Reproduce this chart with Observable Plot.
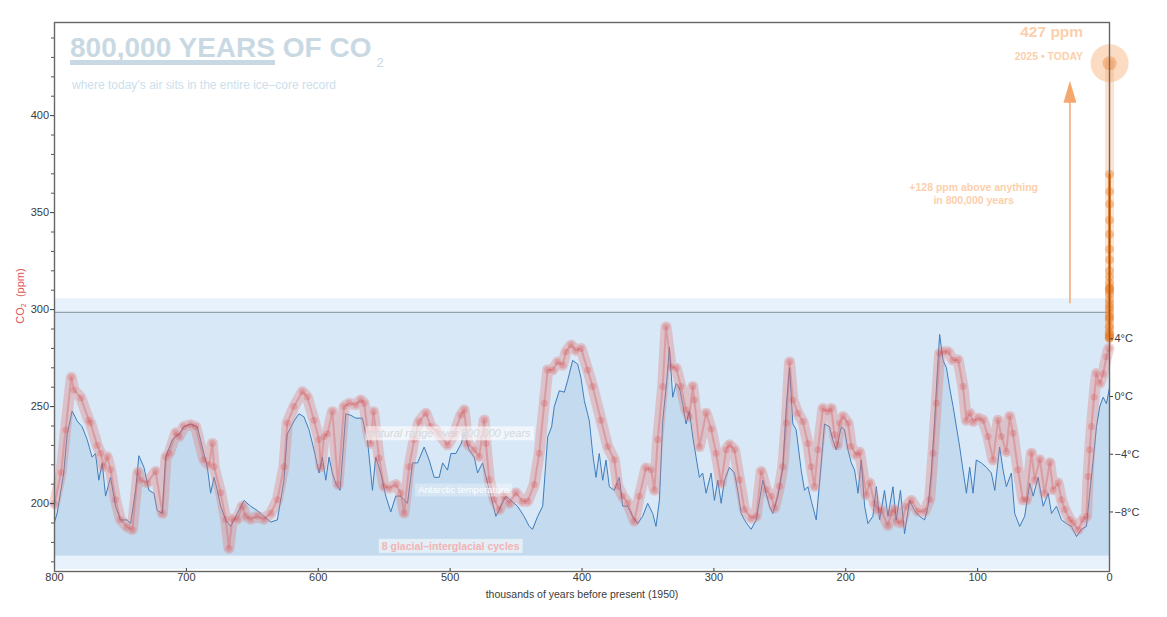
<!DOCTYPE html>
<html>
<head>
<meta charset="utf-8">
<script src="https://cdn.jsdelivr.net/npm/d3@7"></script>
<script src="https://cdn.jsdelivr.net/npm/@observablehq/plot@0.6"></script>
<style>
  html, body { margin: 0; padding: 0; background: #fff; }
  #chart svg { display: block; }
</style>
</head>
<body>
<div id="chart"></div>
<script>
// EPICA Dome C composite CO2 (thousands of years before 1950, ppm)
const co2Age = [800,795,791.6,787.3,785.3,780,774,772.7,767.6,765,762.6,760,757.5,753.7,750,745,741,736.7,734.7,729.6,723.3,718.2,715.4,713,708,705.6,701.9,696.8,693,686.7,682.8,680.3,679,674,670.2,667.7,665.2,661.4,657.6,655,651.3,646.2,641.2,636,631,626,623.5,618.4,612,608.3,603.2,599.4,598,595.6,593,589.3,585,580.4,576.6,571.5,567.8,565.2,562.7,560.2,558.1,556.4,553.9,550.1,546.3,541.2,537.4,534.9,531.1,527.3,523.5,518.4,514.6,509.6,502,496.9,491.8,489.3,486.8,481.7,477.9,474.1,472.9,470.3,466.5,462.7,459,455.2,450.1,445,441.3,436.2,432.4,428.6,426,422.3,418.4,414.7,412.1,408.3,404.6,400.8,395.7,391.9,385.6,380.5,375.5,372.9,369.1,365.4,360.3,356.5,351.5,347.6,345.1,342.6,338.8,336.3,332.4,328.6,324.9,321.1,318.6,316,314.8,311,305.9,302.1,298.3,294.5,290.7,288.2,284.4,280.6,276.8,271.7,267.9,264.1,260.3,256.5,254,250.2,247.7,245.1,242.6,240.1,236.3,232.5,228.7,226.2,223.7,221.1,217.3,213.6,211,208.5,206.5,204.7,202.1,198.3,195.8,192,189.5,184.4,181.9,178.1,175.6,173.1,168,165.5,163,161.7,157.9,154.1,150.3,145.2,140.2,136.4,133.8,131.3,128.8,126.2,122.4,118.6,114.8,111.1,108.5,106,103.5,99.7,95.9,92.1,88.3,84.5,82,78.2,75.7,73.2,69.4,65.6,63,59.2,56.7,52.9,49.1,45.3,42.7,39,36.4,33.9,30.1,27.6,23.8,20,17.5,16.2,15,13.7,11.7,9.9,7.4,4.8,2.3,0.5];
const co2Ppm = [200,216,238,265,258.6,254.5,243,241.6,230,226,219,224,217.5,202,191.8,188,186.6,216,212,210.8,216.6,195,224,226,236.5,234.6,239.7,240.6,239.7,222.6,220,231,219,205.6,191.8,177,192,192,198.6,193.5,192,193.5,192,195,202,219,241.5,250,257.7,255,243,233,219,234.6,236,247.4,210,250,251.7,251,253.4,251.7,238,231,247.4,238,223.5,209,208,209.8,205.5,195.2,219,233,242.3,246.6,239.7,237,230.3,236,245.7,248.3,231,227.7,224.3,243,231,212.3,202,197,203.8,200.3,205.5,201.2,201.2,209.8,226,251.7,268.9,268.9,273,271.4,278.3,281.7,279,280,268.9,260.3,243,229.4,222.6,209,203.8,200.3,191,203.8,218.3,217.5,207,233,260.3,291,270.6,269.8,260.3,248.3,244.9,260.3,253.4,229.4,246.6,238.5,226,210.6,227.7,230.3,227.7,212.3,197,192.6,193.5,216.6,207.2,203.8,197.8,209,219,241.5,273,253.4,246.6,242.3,231,219,209,227.7,249,247.4,249,235.5,230.3,241.5,244.9,241.5,229.4,225,226.5,204.5,210.6,200,197,196.5,188.8,195.2,197,191,190,198.6,201.6,196,196,202,226,251.7,277.4,278.3,278.3,274,274,260.3,243,246.6,242.3,244,243,234.6,222.6,243,234.6,226.9,244.9,236.3,217.5,202,202,226,212.3,222.6,205.5,221,207.2,210.6,202,197,191.8,190,186.6,191.8,193.5,214,227.7,239.7,255,267,262,267,275.7,280];

// Antarctic temperature anomaly (°C) from the same core
const tempAge = [800,798,793,790.4,786.6,782.8,779,775.2,771.5,768.9,766.4,763.8,761.3,757.5,753.7,750,744.9,742.3,738.5,736,732.2,728.4,724.6,722.1,718.3,715.7,710.7,705.6,701.9,696.8,691.7,686.7,684.1,681.6,679,676.5,674,670.2,666.4,661.4,656.3,651.3,646.2,641.2,636,631,626,623.5,618.4,614.6,610.9,607,603.2,599.4,596.9,594.3,591.8,589.3,586.7,583.5,579.1,575.3,571.5,566.5,562.7,558.9,556.4,552.6,548.8,545,541.2,537.4,532.3,528.5,524.7,519.7,515.9,512.1,508.3,505.7,502,499.4,495.6,491.8,489.3,485.5,481.7,479.2,475.4,471.6,469.1,465.3,461.5,457.7,453.9,448.9,443.9,440,437.5,433.6,429.8,426,423,421,417.2,413.4,410.9,407.1,403.3,400.8,398.2,394.4,391.9,389.4,386.9,384.3,381.8,379.3,375.5,371.7,369.1,365.4,361.5,357.8,354,350.2,346.4,343.9,341.3,338.8,335.7,333.7,331.2,328.6,326.1,323.6,321.1,318.6,316,313.5,311,308.5,305.9,302.1,299.6,297,294.5,292,288.2,284.4,281.9,279.3,276.8,274.3,271.7,267.9,265.4,262.9,260.3,257.8,255.3,251.5,247.7,245.1,242.6,240.1,237.6,233.8,231.3,228.7,226.2,222.4,219.9,216.1,212.3,209.8,207.2,203.4,200.9,198.3,195.8,193.3,190.7,188.2,185.7,183.2,179.4,176.8,174.3,170.6,168,164.2,161.7,158.5,155.4,151.6,147.8,144,140.2,137.6,135.1,132.6,130.5,128.8,126.2,123.7,121.2,118.6,116.1,113.6,111.1,108.5,106,103.5,101,97.2,93.4,89.6,87,83.3,80.7,78.2,74.4,71.9,68.1,64.3,60.5,57.9,54.1,50.3,46.5,44,40.2,36.4,32.6,28.8,25,21.3,17.5,15,12.4,9.9,7.4,4.8,2.3,0];
const tempC = [-8.7,-8.1,-5.3,-2.6,-1.0,-1.7,-2.1,-3.0,-4.2,-3.95,-5.8,-4.6,-6.9,-5.6,-7.6,-8.55,-8.55,-8.8,-6.5,-4.1,-4.9,-6.5,-6.7,-7.9,-8.1,-4.2,-3.0,-2.6,-2.1,-1.9,-2.1,-3.95,-4.9,-6.7,-5.6,-6.5,-7.6,-8.55,-9.0,-8.1,-7.2,-7.6,-7.9,-8.3,-8.7,-8.55,-5.8,-2.6,-1.7,-1.2,-1.4,-2.3,-3.7,-5.3,-4.2,-5.8,-4.2,-5.3,-6.0,-6.5,-1.2,-1.3,-1.5,-1.5,-3.0,-6.5,-4.2,-5.3,-6.9,-8.0,-6.9,-6.9,-7.4,-4.6,-4.6,-3.5,-4.4,-5.6,-5.6,-4.6,-5.1,-3.95,-3.95,-3.3,-2.6,-3.7,-4.2,-5.3,-4.6,-6.0,-6.9,-8.3,-7.6,-6.9,-7.2,-7.6,-8.3,-9.0,-9.2,-8.3,-7.6,-2.8,-2.1,-0.7,0.4,0.3,1.1,2.5,2.25,1.3,-0.3,-1.7,-3.95,-5.6,-3.95,-5.8,-4.4,-6.25,-6.5,-5.6,-7.6,-7.6,-8.3,-8.8,-8.3,-7.4,-8.1,-9.0,-7.2,-1.7,1.1,3.4,-0.05,0.9,0.6,-0.5,-1.9,-1.0,-2.8,-4.2,-5.6,-5.3,-6.7,-5.3,-7.2,-5.8,-7.4,-5.8,-4.9,-5.3,-6.5,-8.1,-8.55,-8.9,-9.2,-8.55,-7.2,-5.8,-6.7,-7.6,-8.1,-6.9,-4.9,-0.7,2.0,-1.9,-2.3,-5.1,-6.5,-6.25,-7.2,-8.55,-6.0,-1.9,-2.1,-3.0,-3.7,-2.1,-2.3,-3.7,-4.6,-5.1,-6.7,-4.4,-7.6,-8.8,-8.3,-6.25,-8.55,-6.5,-8.3,-6.25,-8.55,-6.5,-9.5,-7.2,-7.9,-8.3,-8.55,-7.6,-5.3,-1.7,1.8,4.3,2.5,2.0,0.6,-0.7,-2.1,-3.5,-5.1,-6.7,-4.9,-6.7,-4.4,-4.6,-4.9,-5.3,-6.5,-3.5,-5.1,-6.25,-5.3,-8.1,-9.0,-8.3,-6.0,-6.9,-5.6,-7.6,-6.7,-8.1,-7.6,-8.55,-8.8,-9.0,-9.7,-9.2,-9.0,-6.7,-4.4,-2.1,-0.7,-0.05,-0.5,0.6];

// Industrial-era CO2 (calendar year, ppm)
const modernYear = [1850,1855,1860,1865,1870,1875,1880,1885,1890,1895,1900,1905,1910,1915,1920,1925,1930,1935,1940,1945,1950,1955,1960,1965,1970,1975,1980,1985,1990,1995,2000,2005,2010,2015,2020,2025];
const modernPpm = [285.2,285.6,286.1,286.6,287.4,288.3,290.7,291.6,294.6,295.8,296.3,298.0,300.1,301.4,303.0,305.0,307.9,309.4,311.0,310.5,311.3,313.7,316.9,320.0,325.7,331.1,338.8,346.1,354.4,360.8,369.7,379.8,389.9,401.0,414.2,427];

// Natural envelope of the ice-core record
const naturalMin = 173;
const naturalMax = 298.6;
const envelopePad = 7;

// Axis ticks
const xTicks = [800, 700, 600, 500, 400, 300, 200, 100, 0];
const ppmTicks = [200, 250, 300, 350, 400];
const ppmMinorTicks = [170, 180, 190, 210, 220, 230, 240, 260, 270, 280, 290, 310, 320, 330, 340, 360, 370, 380, 390, 410, 420, 430, 440];
const tempTicks = [4, 0, -4, -8];

// Temperature is drawn on the CO2 axis: 0 °C sits at 255.2 ppm, 1 °C spans 7.44 ppm
const tempZeroPpm = 255.2;
const ppmPerDegree = 7.44;
const tempToPpm = (t) => tempZeroPpm + ppmPerDegree * t;
const ppmToTemp = (p) => (p - tempZeroPpm) / ppmPerDegree;

const co2 = co2Age.map((age, i) => ({age, ppm: co2Ppm[i]}));
const temp = tempAge.map((age, i) => ({age, t: tempC[i]}));
const modern = modernYear.map((year, i) => ({year, age: (1950 - year) / 1000, ppm: modernPpm[i]}));
const modernCore = modern.filter((d) => d.year <= 2000);
const today = modern[modern.length - 1];
const rise = Math.round(today.ppm - naturalMax);

// Annotation anchors (data units)
const arrowAge = 30;
const arrowFrom = 303;
const arrowTip = 418;

const fmtTemp = (p) => {
  const t = Math.round(ppmToTemp(p));
  return (t < 0 ? "\u2212" + Math.abs(t) : String(t)) + "°C";
};

// Filled, elongated arrowhead with its tip at the anchor point
const arrowHead = {
  draw(context) {
    context.moveTo(0, 0);
    context.lineTo(6.5, 22);
    context.lineTo(-6.5, 22);
    context.closePath();
  }
};

const font = "'Liberation Sans', Arial, Helvetica, sans-serif";

// In-chart labels, each with its translucent backing box
const boxedLabels = [
  {text: "natural range over 800,000 years", boxOpacity: 0.6},
  {text: "Antarctic temperature", boxOpacity: 0.3},
  {text: "8 glacial\u2013interglacial cycles", boxOpacity: 0.55}
];

const chart = Plot.plot({
  width: 1167,
  height: 617,
  marginLeft: 54,
  marginRight: 58,
  marginTop: 22,
  marginBottom: 46,
  x: {domain: [800, 0]},
  y: {domain: [165, 448]},
  style: {fontFamily: font, fontSize: "11px", color: "#3a3a3a", background: "#fff", overflow: "visible"},
  marks: [
    // envelope bands
    Plot.rect([0], {y1: naturalMin - envelopePad, y2: naturalMax + envelopePad, fill: "#e8f2fc"}),
    Plot.rect([0], {y1: naturalMin, y2: naturalMax, fill: "#d9e8f6"}),
    // Antarctic temperature
    Plot.areaY(temp, {x: "age", y1: naturalMin, y2: (d) => tempToPpm(d.t), fill: "#c4daee"}),
    Plot.lineY(temp, {x: "age", y: (d) => tempToPpm(d.t), stroke: "#3f7dbd", strokeWidth: 1}),
    Plot.ruleY([naturalMax], {stroke: "#96a0a8", strokeWidth: 1.2}),
    // ice-core CO2
    Plot.line(co2, {x: "age", y: "ppm", stroke: "#df8080", strokeOpacity: 0.38, strokeWidth: 11, strokeLinejoin: "round", strokeLinecap: "round"}),
    Plot.line(co2, {x: "age", y: "ppm", stroke: "#d65a5a", strokeOpacity: 0.35, strokeWidth: 2}),
    Plot.dot(co2, {x: "age", y: "ppm", r: 3.5, fill: "#d83a3a", fillOpacity: 0.22}),
    // industrial era
    Plot.line(modern, {x: "age", y: "ppm", stroke: "#f5a060", strokeOpacity: 0.3, strokeWidth: 9}),
    Plot.line(modernCore, {x: "age", y: "ppm", stroke: "#ef7410", strokeWidth: 2.5}),
    Plot.dot(modernCore, {x: "age", y: "ppm", r: 4.5, fill: "#f07a1c", fillOpacity: 0.4}),
    Plot.dot([today], {x: "age", y: "ppm", r: 19, fill: "#f6a868", fillOpacity: 0.4}),
    Plot.dot([today], {x: "age", y: "ppm", r: 7, fill: "#ef8a40", fillOpacity: 0.45}),
    // rise arrow
    Plot.ruleX([arrowAge], {y1: arrowFrom, y2: arrowTip - 5, stroke: "#f6a76e", strokeWidth: 1.5}),
    Plot.dot([arrowAge], {x: (d) => d, y: arrowTip, symbol: arrowHead, fill: "#f6a76e", stroke: "none"}),
    // annotations
    Plot.text([`${today.ppm} ppm`], {x: 20, y: 443, text: (d) => d, textAnchor: "end", fontSize: 15.5, fontWeight: "bold", fill: "#fccfac"}),
    Plot.text([`${today.year} \u2022 TODAY`], {x: 20, y: 430.5, text: (d) => d, textAnchor: "end", fontSize: 10.5, fontWeight: "bold", fill: "#fccfac"}),
    Plot.text([`+${rise} ppm above anything\nin 800,000 years`], {x: 103, y: 360, text: (d) => d, fontSize: 10.5, fontWeight: "bold", lineHeight: 1.25, fill: "#fccfac"}),
    Plot.text([boxedLabels[0].text], {x: 500.4, y: 236, text: (d) => d, fontSize: 11, fontStyle: "italic", fill: "#d3d8dd"}),
    Plot.text([boxedLabels[1].text], {x: 489.8, y: 206.8, text: (d) => d, fontSize: 9.5, fill: "#ffffff"}),
    Plot.text([boxedLabels[2].text], {x: 499.6, y: 177.9, text: (d) => d, fontSize: 10.5, fontWeight: "bold", fill: "#f2b4b4"}),
    // axes
    Plot.axisY(ppmTicks, {anchor: "left", tickSize: 4, tickPadding: 1.5, label: null, fontSize: 11, color: "#3a3a3a"}),
    Plot.axisY(ppmMinorTicks, {anchor: "left", tickSize: 3, tickFormat: () => "", label: null, color: "#555"}),
    Plot.axisY(tempTicks.map(tempToPpm), {anchor: "right", tickSize: 3, tickPadding: 2, tickFormat: fmtTemp, label: null, fontSize: 11, color: "#3a3a3a"}),
    Plot.axisX(xTicks, {anchor: "bottom", tickSize: -3, tickPadding: 5, label: null, fontSize: 11, color: "#3a3a3a"}),
    Plot.text(["thousands of years before present (1950)"], {frameAnchor: "bottom", dy: 26, text: (d) => d, fontSize: 10.5, fill: "#3a3a3a"}),
    Plot.frame({stroke: "#666", strokeWidth: 1.4})
  ]
});

document.getElementById("chart").appendChild(chart);

const ns = "http://www.w3.org/2000/svg";
const svg = chart.tagName.toLowerCase() === "svg" ? chart : chart.querySelector("svg");

// Translucent boxes behind the in-chart labels
svg.querySelectorAll("text").forEach((t) => {
  const label = boxedLabels.find((l) => l.text === t.textContent);
  if (!label) return;
  const b = t.getBBox();
  const r = document.createElementNS(ns, "rect");
  r.setAttribute("x", b.x - 3);
  r.setAttribute("y", b.y - 1);
  r.setAttribute("width", b.width + 6);
  r.setAttribute("height", b.height + 2);
  r.setAttribute("fill", "#fff");
  r.setAttribute("fill-opacity", label.boxOpacity);
  const tr = t.getAttribute("transform");
  if (tr) r.setAttribute("transform", tr);
  t.parentNode.insertBefore(r, t);
});

// Title, subtitle and the CO2 axis title
function svgText(attrs, parts) {
  const el = document.createElementNS(ns, "text");
  el.setAttribute("text-anchor", "start");
  for (const [k, v] of Object.entries(attrs)) el.setAttribute(k, v);
  for (const p of parts) {
    const s = document.createElementNS(ns, "tspan");
    for (const [k, v] of Object.entries(p.attrs || {})) s.setAttribute(k, v);
    s.textContent = p.text;
    el.appendChild(s);
  }
  svg.appendChild(el);
  return el;
}

const title = svgText(
  {x: 70, y: 57, "font-family": font, "font-size": 28, "font-weight": "bold", fill: "#c9d9e3"},
  [{text: "800,000 YEARS"}, {text: " OF CO"}, {text: "2", attrs: {"font-size": 13, dx: 5, dy: 10, "font-weight": "normal"}}]
);
const underlineWidth = title.getSubStringLength(0, 13);
const bar = document.createElementNS(ns, "rect");
bar.setAttribute("x", 70);
bar.setAttribute("y", 60);
bar.setAttribute("width", underlineWidth);
bar.setAttribute("height", 5);
bar.setAttribute("fill", "#c9d9e3");
svg.insertBefore(bar, title);

svgText(
  {x: 72, y: 89, "font-family": font, "font-size": 12, fill: "#cce0eb"},
  [{text: "where today\u2019s air sits in the entire ice\u2013core record"}]
);

svgText(
  {transform: "translate(24,296) rotate(-90)", "text-anchor": "middle", "font-family": font, "font-size": 11, fill: "#e05555"},
  [{text: "CO"}, {text: "2", attrs: {"font-size": 7, dy: 2}}, {text: "  (ppm)", attrs: {dy: -2}}]
);
</script>
</body>
</html>
